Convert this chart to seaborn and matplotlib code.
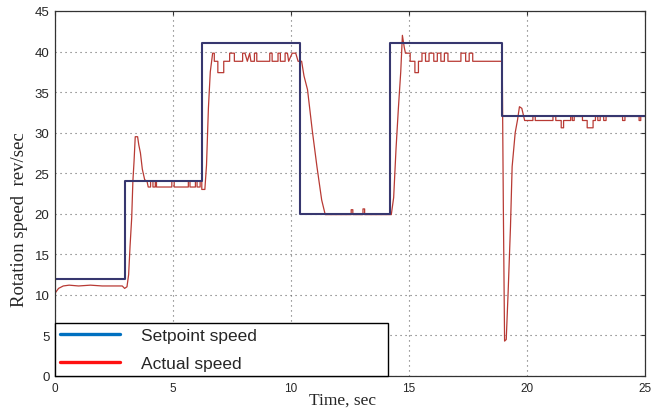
import seaborn as sns
import pandas as pd
import matplotlib.pyplot as plt
from matplotlib.lines import Line2D

# setpoint: step changes (time, level)
sp_time = [0, 2.97, 6.23, 10.4, 14.2, 18.95, 25]
sp_value = [12, 24, 41, 20, 41, 32, 32]

# actual speed, one piece per setpoint stage
t_a = [0.00, 0.15, 0.35, 0.60, 1.00, 1.50, 2.00, 2.50, 2.85, 2.95, 3.05, 3.12, 3.18, 3.25, 3.30,
       3.35, 3.40, 3.50, 3.55, 3.62, 3.70, 3.80, 3.90, 3.95]
v_a = [10.2, 10.8, 11.1, 11.2, 11.1, 11.2, 11.1, 11.1, 11.1, 10.8, 11.0, 12.5, 16.0, 19.5, 24.0,
       26.5, 29.5, 29.5, 28.5, 27.5, 25.5, 24.2, 24.0, 23.3]

t_b = [4.05, 4.05, 4.15, 4.15, 4.25, 4.25, 4.30, 4.30, 4.95, 4.95, 5.05, 5.05, 5.65, 5.65, 5.72,
       5.72, 5.95, 5.95, 6.02, 6.02, 6.15, 6.15, 6.22, 6.22]
v_b = [23.3, 24.0, 24.0, 23.3, 23.3, 24.0, 24.0, 23.3, 23.3, 24.0, 24.0, 23.3, 23.3, 24.0, 24.0,
       23.3, 23.3, 24.0, 24.0, 23.3, 23.3, 24.0, 24.0, 23.0]

t_c = [6.35, 6.42, 6.50, 6.58, 6.68, 6.75, 6.75, 6.90, 6.90, 7.15, 7.15, 7.40, 7.40, 7.60, 7.60,
       7.95, 7.95, 8.05, 8.15, 8.25, 8.30, 8.45, 8.45, 8.55, 8.55, 9.10, 9.10, 9.20, 9.20, 9.45,
       9.45, 9.55, 9.55, 9.75, 9.75, 9.85, 9.90, 10.05, 10.20, 10.30, 10.45]
v_c = [23.0, 26.0, 33.0, 37.5, 39.8, 39.8, 38.8, 38.8, 37.4, 37.4, 38.8, 38.8, 39.8, 39.8, 38.8,
       38.8, 39.8, 39.8, 38.8, 39.8, 38.8, 38.8, 39.8, 39.8, 38.8, 38.8, 39.8, 39.8, 38.8, 38.8,
       39.8, 39.8, 38.8, 38.8, 39.8, 39.8, 38.8, 39.8, 39.8, 38.8, 38.8]

t_d = [10.55, 10.70, 10.90, 11.10, 11.30, 11.45, 12.55, 12.55, 12.62, 12.62, 13.05, 13.05, 13.12,
       13.12, 14.25]
v_d = [37.0, 35.3, 30.3, 25.8, 21.7, 19.9, 19.9, 20.5, 20.5, 19.9, 19.9, 20.6, 20.6, 19.9, 19.9]

t_e = [14.35, 14.45, 14.55, 14.65, 14.72, 14.80, 14.85, 15.05, 15.05, 15.25, 15.25, 15.40, 15.40,
       15.55, 15.55, 15.70, 15.70, 15.85, 15.85, 16.05, 16.05, 16.20, 16.20, 16.35, 16.35, 16.50,
       16.50, 16.65, 16.65, 17.20, 17.20, 17.40, 17.40, 17.55, 17.55, 17.70, 17.70, 18.95]
v_e = [22.0, 28.0, 33.0, 37.5, 42.0, 40.5, 39.8, 39.8, 38.8, 38.8, 37.4, 37.4, 38.8, 38.8, 39.8,
       39.8, 38.8, 38.8, 39.8, 39.8, 38.8, 38.8, 39.8, 39.8, 38.8, 38.8, 39.8, 39.8, 38.8, 38.8,
       39.8, 39.8, 38.8, 38.8, 39.8, 39.8, 38.8, 38.8]

t_f = [19.00, 19.05, 19.12, 19.20, 19.30, 19.37, 19.50, 19.60, 19.68, 19.78, 19.90, 20.25, 20.25,
       20.35, 20.35, 21.10, 21.10, 21.22, 21.22, 21.45, 21.45, 21.55, 21.55, 21.85, 21.85, 21.92,
       21.92, 22.00, 22.00, 22.35, 22.35, 22.55, 22.55, 22.80, 22.80, 22.90, 22.90, 23.00, 23.00,
       23.10, 23.10, 23.25, 23.25, 23.35, 23.35, 24.05, 24.05, 24.15, 24.15, 24.75, 24.75, 24.82,
       24.82, 25.00]
v_f = [20.0, 4.3, 4.5, 10.3, 18.4, 25.8, 30.0, 31.6, 33.2, 33.0, 31.5, 31.5, 32.0, 32.0, 31.5,
       31.5, 32.0, 32.0, 31.5, 31.5, 30.6, 30.6, 31.5, 31.5, 32.0, 32.0, 31.5, 31.5, 32.0, 32.0,
       31.5, 31.5, 30.6, 30.6, 31.5, 31.5, 32.0, 32.0, 31.5, 31.5, 32.0, 32.0, 31.5, 31.5, 32.0,
       32.0, 31.5, 31.5, 32.0, 32.0, 31.5, 31.5, 32.0, 32.0]

legend_labels = ["Setpoint speed", "Actual speed"]

sp = pd.DataFrame({"t": sp_time, "v": sp_value})
act = pd.DataFrame({"t": t_a + t_b + t_c + t_d + t_e + t_f,
                    "v": v_a + v_b + v_c + v_d + v_e + v_f})

sns.set_style("white")
plt.rcParams["font.family"] = ["Liberation Sans", "DejaVu Sans"]

fig = plt.figure(figsize=(6.56, 4.10), dpi=100)
ax = fig.add_axes([55 / 656, 1 - 377 / 410, 590 / 656, 365 / 410])

sns.lineplot(data=act, x="t", y="v", ax=ax, color="#b83a34", linewidth=0.9,
             sort=False, estimator=None)
sns.lineplot(data=sp, x="t", y="v", ax=ax, color="#37376f", linewidth=1.5,
             sort=False, estimator=None, drawstyle="steps-post")

ax.set_xlim(0, 25)
ax.set_ylim(0, 45)
ax.set_xticks(range(0, 26, 5))
ax.set_yticks(range(0, 46, 5))
ax.grid(True, linestyle=(0, (1, 3.5)), color="#666666", linewidth=0.8)
ax.tick_params(direction="in", top=True, right=True, length=3, color="#333333", pad=4)
ax.tick_params(axis="y", labelsize=9.5)
ax.tick_params(axis="x", labelsize=8.5)
for s in ax.spines.values():
    s.set_color("#333333")
    s.set_linewidth(0.9)

ax.set_xlabel("Time, sec", family="Liberation Serif", fontsize=12.5)
ax.xaxis.set_label_coords(0.488, -0.044)
ax.set_ylabel("Rotation speed  rev/sec", family="Liberation Serif", fontsize=13.5)
ax.yaxis.set_label_coords(-0.046, 0.43)

handles = [Line2D([], [], color="#0070c0", linewidth=2.4),
           Line2D([], [], color="#ff1010", linewidth=2.4)]
leg = ax.legend(handles, legend_labels, loc="lower left", bbox_to_anchor=(0, 0, 333 / 590, 54 / 365),
                mode="expand", borderaxespad=0, fancybox=False, framealpha=1, edgecolor="black",
                fontsize=12.5, handlelength=3.45, handletextpad=1.2, labelspacing=0.72, borderpad=0.3)
leg.get_frame().set_linewidth(1.0)

plt.savefig("out.png", dpi=100)
